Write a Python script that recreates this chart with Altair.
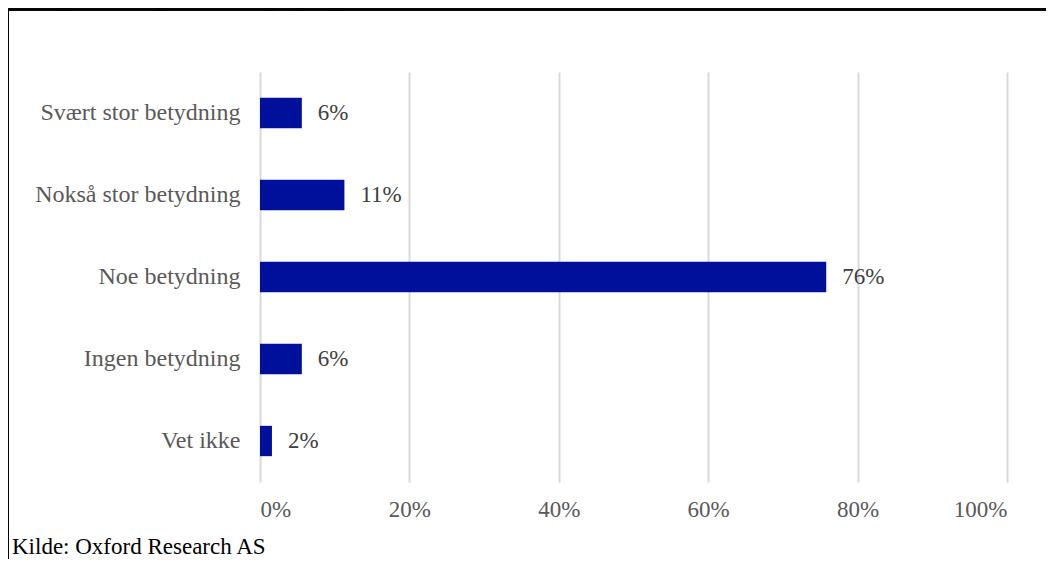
import altair as alt
import pandas as pd

categories = ["Svært stor betydning", "Nokså stor betydning", "Noe betydning", "Ingen betydning", "Vet ikke"]
values = [0.056, 0.113, 0.758, 0.056, 0.016]
labels = ["6%", "11%", "76%", "6%", "2%"]
x_ticks = [0, 0.2, 0.4, 0.6, 0.8, 1.0]

title_text = "næringsutvikling, omstilling og regionalt samarbeid i din kommune?» (n=124)."
source_text = "Kilde: Oxford Research AS"

df = pd.DataFrame({"cat": categories, "val": values, "lab": labels})

FONT = "Liberation Serif"
W, H = 747, 410
FS = 23

y_enc = alt.Y("cat:N", sort=categories, title=None,
              scale=alt.Scale(paddingInner=0.63, paddingOuter=0.315),
              axis=alt.Axis(domain=False, ticks=False, labelPadding=20,
                            labelFont=FONT, labelFontSize=24, labelColor="#595959",
                            grid=False, labelLimit=400))
x_enc = alt.X("val:Q", title=None,
              scale=alt.Scale(domain=[0, 1], nice=False),
              axis=alt.Axis(values=x_ticks, format=".0%", domain=False, ticks=False,
                            labelFont=FONT, labelFontSize=FS, labelColor="#595959",
                            labelPadding=16, grid=True, gridColor="#d9d9d9", gridWidth=2))

bars = alt.Chart(df).mark_bar(color="#00109b").encode(x=x_enc, y=y_enc)
text = alt.Chart(df).mark_text(align="left", dx=16, font=FONT, fontSize=FS, color="#404040").encode(
    x="val:Q", y=alt.Y("cat:N", sort=categories), text="lab:N")

border_left = alt.Chart(df).mark_rule(color="black", strokeWidth=2).encode(
    x=alt.value(-252), y=alt.value(-62.5), y2=alt.value(H + 100))
border_top = alt.Chart(df).mark_rule(color="black", strokeWidth=2).encode(
    x=alt.value(-253), x2=alt.value(W + 100), y=alt.value(-62.5))

title = alt.Chart(pd.DataFrame({"t": [title_text]})).mark_text(
    align="left", baseline="alphabetic", font=FONT, fontSize=FS, fontWeight="bold", color="black"
).encode(x=alt.value(-260), y=alt.value(-67), text="t:N")
source = alt.Chart(pd.DataFrame({"t": [source_text]})).mark_text(
    align="left", baseline="alphabetic", font=FONT, fontSize=FS, color="black"
).encode(x=alt.value(-248), y=alt.value(482), text="t:N")

chart = alt.layer(bars, text, border_left, border_top, title, source).properties(
    width=W, height=H,
    autosize=alt.AutoSizeParams(type="none"),
    padding={"left": 252, "top": 64, "right": 39, "bottom": 77},
).configure_view(stroke=None).configure_axis(labelFont=FONT)

chart.save("out.html", embed_options={"renderer": "svg", "actions": False})
